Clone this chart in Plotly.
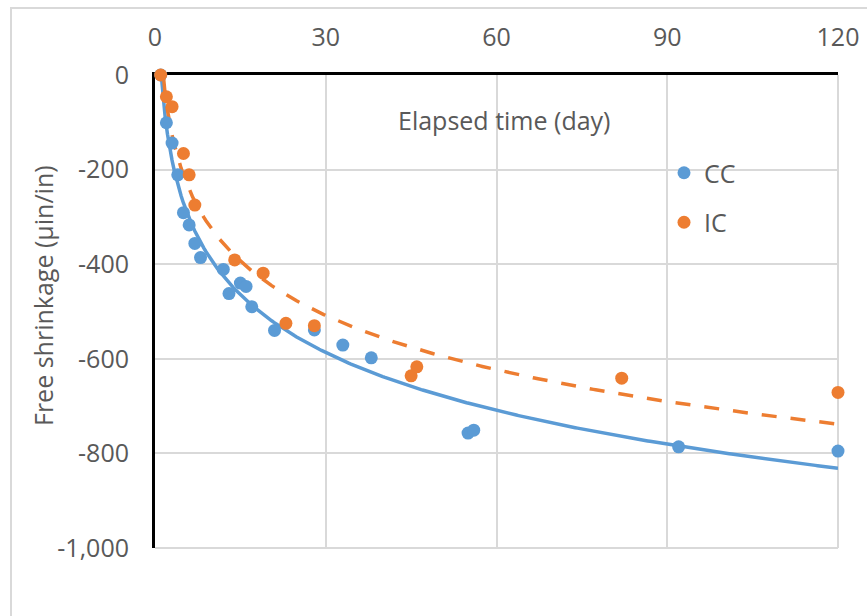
import numpy as np
import plotly.graph_objects as go

# Free shrinkage measurements (microstrain) against elapsed time (days)
cc_days = [1, 2, 3, 4, 5, 6, 7, 8, 12, 13, 15, 16, 17, 21, 28, 33, 38, 55, 56, 92, 120]
cc_shrinkage = [0, -101, -144, -211, -291, -317, -356, -386, -411, -462, -440, -447,
                -490, -540, -539, -571, -598, -757, -751, -786, -795]

ic_days = [1, 2, 3, 5, 6, 7, 14, 19, 23, 28, 45, 46, 82, 120]
ic_shrinkage = [0, -46, -67, -166, -211, -275, -391, -419, -525, -530, -636, -617, -641, -671]

x_ticks = [0, 30, 60, 90, 120]
y_ticks = [0, -200, -400, -600, -800, -1000]
y_tick_labels = ["0", "-200", "-400", "-600", "-800", "-1,000"]

BLUE = "#5B9BD5"
ORANGE = "#ED7D31"
TEXT = "#595959"
GRID = "#D9D9D9"
FONT = "Open Sans"
FS = 25


def log_trend(days, values):
    """Least-squares logarithmic trendline y = a*ln(x) + b over the data span."""
    a, b = np.polyfit(np.log(days), values, 1)
    xs = np.linspace(min(days), max(days), 300)
    return xs, a * np.log(xs) + b


fig = go.Figure()

cc_tx, cc_ty = log_trend(cc_days, cc_shrinkage)
ic_tx, ic_ty = log_trend(ic_days, ic_shrinkage)

fig.add_trace(go.Scatter(x=cc_tx, y=cc_ty, mode="lines", showlegend=False,
                         line=dict(color=BLUE, width=3.5), hoverinfo="skip"))
fig.add_trace(go.Scatter(x=ic_tx, y=ic_ty, mode="lines", showlegend=False,
                         line=dict(color=ORANGE, width=3.5, dash="15px,14px"),
                         hoverinfo="skip"))

fig.add_trace(go.Scatter(x=cc_days, y=cc_shrinkage, mode="markers", name="CC",
                         legendgroup="cc", cliponaxis=False,
                         marker=dict(color=BLUE, size=13)))
fig.add_trace(go.Scatter(x=ic_days, y=ic_shrinkage, mode="markers", name="IC",
                         legendgroup="ic", cliponaxis=False,
                         marker=dict(color=ORANGE, size=13)))

L, R, T, B = 155, 29, 75, 68
W, H = 867, 616
pw, ph = W - L - R, H - T - B


def px_x(px):
    return (px - L) / pw


def px_y(py):
    return (H - B - py) / ph


fig.update_layout(
    width=W, height=H,
    margin=dict(l=L, r=R, t=T, b=B, autoexpand=False),
    paper_bgcolor="white", plot_bgcolor="white",
    font=dict(family=FONT, size=FS, color=TEXT),
    xaxis=dict(
        side="top", range=[0, 120], tickvals=x_ticks,
        showgrid=True, gridcolor=GRID, gridwidth=2,
        showline=True, linecolor="black", linewidth=3,
        zeroline=False, ticks="", ticklabelstandoff=16,
        tickfont=dict(family=FONT, size=FS, color=TEXT),
        layer="below traces", fixedrange=True, automargin=False,
    ),
    yaxis=dict(
        range=[-1000, 0], tickvals=y_ticks, ticktext=y_tick_labels,
        showgrid=True, gridcolor=GRID, gridwidth=2,
        showline=True, linecolor="black", linewidth=3,
        zeroline=False, ticks="", ticklabelstandoff=18,
        tickfont=dict(family=FONT, size=FS, color=TEXT),
        layer="below traces", fixedrange=True, automargin=False,
    ),
    legend=dict(
        x=px_x(664), y=px_y(150), xanchor="left", yanchor="top",
        font=dict(family=FONT, size=FS, color=TEXT),
        bgcolor="rgba(0,0,0,0)", traceorder="grouped", tracegroupgap=14,
        itemwidth=30,
    ),
    annotations=[
        dict(text="Elapsed time (day)", xref="paper", yref="paper",
             x=px_x(396), y=px_y(120), xanchor="left", yanchor="middle",
             showarrow=False, font=dict(family=FONT, size=FS, color=TEXT)),
        dict(text="Free shrinkage (μin/in)", xref="paper", yref="paper",
             x=px_x(43), y=px_y(296), xanchor="center", yanchor="middle",
             textangle=-90, showarrow=False,
             font=dict(family=FONT, size=FS, color=TEXT)),
    ],
    shapes=[
        # plot-area edges at x = 120 and y = -1000
        dict(type="line", xref="paper", yref="paper", layer="below",
             x0=1, x1=1, y0=0, y1=1, line=dict(color=GRID, width=2)),
        dict(type="line", xref="paper", yref="paper", layer="below",
             x0=0, x1=1, y0=0, y1=0, line=dict(color=GRID, width=2)),
        # outer chart frame
        dict(type="rect", xref="paper", yref="paper", layer="below",
             x0=px_x(11), x1=px_x(W + 20), y0=px_y(H + 20), y1=px_y(8),
             line=dict(color=GRID, width=2)),
    ],
)

fig.write_html("out.html")
